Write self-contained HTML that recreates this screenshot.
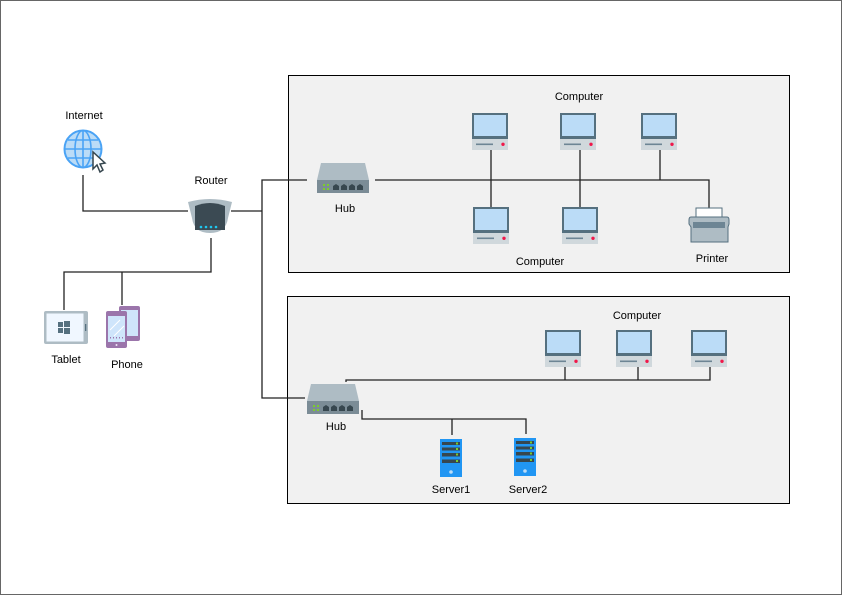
<!DOCTYPE html>
<html><head><meta charset="utf-8"><style>
html,body{margin:0;padding:0;background:#fff}
svg{display:block}
text{font-family:"Liberation Sans",Arial,sans-serif;font-size:11px;fill:#000}
</style></head><body>
<svg width="842" height="595" viewBox="0 0 842 595" xmlns="http://www.w3.org/2000/svg">
<defs>
 <g id="pc">
  <rect x="0" y="0" width="36" height="26" fill="#55707f"/>
  <rect x="2" y="2" width="32" height="21" fill="#bbdcf7"/>
  <rect x="0" y="26" width="36" height="11" fill="#d0d8dc"/>
  <rect x="4" y="30.5" width="17" height="1.6" fill="#6d8594"/>
  <circle cx="31" cy="31.3" r="1.7" fill="#f0184a"/>
 </g>
 <g id="hub">
  <polygon points="4,0 48,0 52,17 0,17" fill="#aebcc4"/>
  <rect x="0" y="17" width="52" height="13" fill="#7b8c96"/>
  <rect x="6" y="21" width="2" height="2" fill="#7ccc2e"/><rect x="10" y="21" width="2" height="2" fill="#7ccc2e"/>
  <rect x="6" y="25" width="2" height="2" fill="#7ccc2e"/><rect x="10" y="25" width="2" height="2" fill="#7ccc2e"/>
  <path d="M16,27v-4l3,-2l3,2v4zM24,27v-4l3,-2l3,2v4zM32,27v-4l3,-2l3,2v4zM40,27v-4l3,-2l3,2v4z" fill="#37474f"/>
 </g>
 <g id="srv">
  <rect x="0" y="0" width="22" height="38" fill="#2196f3"/>
  <rect x="2" y="3" width="18" height="3" fill="#37474f"/><rect x="16" y="3.5" width="2" height="2" fill="#7ccc2e"/>
  <rect x="2" y="8.5" width="18" height="3" fill="#37474f"/><rect x="16" y="9" width="2" height="2" fill="#7ccc2e"/>
  <rect x="2" y="14" width="18" height="3.5" fill="#37474f"/><rect x="16" y="14.5" width="2" height="2" fill="#7ccc2e"/>
  <rect x="2" y="20.5" width="18" height="3.5" fill="#37474f"/><rect x="16" y="21" width="2" height="2" fill="#7ccc2e"/>
  <circle cx="11" cy="33" r="1.8" fill="#bbdcf7"/>
 </g>
</defs>

<rect x="0.5" y="0.5" width="841" height="594" fill="#fff" stroke="#666"/>
<rect x="288.5" y="75.5" width="501" height="197" fill="#f1f1f1" stroke="#000"/>
<rect x="287.5" y="296.5" width="502" height="207" fill="#f1f1f1" stroke="#000"/>

<g stroke="#222" stroke-width="1.3" fill="none">
 <polyline points="83,175 83,211 188,211"/>
 <polyline points="231,211 262,211"/>
 <polyline points="307,180 262,180 262,398 305,398"/>
 <polyline points="211,238 211,272 64,272 64,310"/>
 <polyline points="122,272 122,305"/>
 <polyline points="375,180 709,180 709,208"/>
 <line x1="491" y1="150" x2="491" y2="207"/>
 <line x1="580" y1="150" x2="580" y2="207"/>
 <line x1="660" y1="150" x2="660" y2="180"/>
 <polyline points="346,382 346,380 710,380 710,367"/>
 <line x1="565" y1="367" x2="565" y2="380"/>
 <line x1="638" y1="367" x2="638" y2="380"/>
 <polyline points="362,410 362,419 526,419 526,434"/>
 <line x1="452" y1="419" x2="452" y2="435"/>
</g>

<!-- internet -->
<circle cx="83" cy="149" r="18.5" fill="#bbdcf7" stroke="#4aa3f5" stroke-width="2"/>
<g stroke="#4aa3f5" stroke-width="1.6" fill="none">
 <ellipse cx="83" cy="149" rx="8" ry="18.5"/>
 <line x1="83" y1="131" x2="83" y2="167"/>
 <line x1="65" y1="149" x2="101" y2="149"/>
 <line x1="68" y1="140" x2="98" y2="140"/>
 <line x1="68" y1="158" x2="98" y2="158"/>
</g>
<path d="M93,152 L93,169 L97,165 L100,172 L103,170 L100,164 L105,163 Z" fill="#fff" stroke="#37474f" stroke-width="1.5"/>

<!-- router -->
<path d="M188,202 Q210,196 232,202 L228,218 Q226,233 210,233 Q194,233 192,218 Z" fill="#aebcc4"/>
<path d="M195,206 Q210,200 225,206 L225,228 L195,228 Z" fill="#3b4a53"/>
<g fill="#1ec8f0"><circle cx="201" cy="228" r="1.3"/><circle cx="206" cy="228" r="1.3"/><circle cx="211" cy="228" r="1.3"/><circle cx="216" cy="228" r="1.3"/></g>
<path d="M195,222 L225,222 L225,230 L195,230 Z" fill="#3b4a53"/>
<g fill="#1ec8f0"><circle cx="201" cy="227" r="1.3"/><circle cx="206" cy="227" r="1.3"/><circle cx="211" cy="227" r="1.3"/><circle cx="216" cy="227" r="1.3"/></g>

<!-- tablet -->
<rect x="44" y="311" width="44" height="33" rx="2" fill="#aebcc4"/>
<rect x="46.5" y="313.5" width="37" height="28" fill="#f0f7ff"/>
<rect x="85" y="324" width="1.3" height="7" fill="#55707f"/>
<g fill="#55707f"><rect x="58" y="322" width="5" height="5"/><rect x="64" y="321" width="6" height="6"/><rect x="58" y="328" width="5" height="5"/><rect x="64" y="328" width="6" height="6"/></g>

<!-- phones -->
<rect x="119" y="306" width="21" height="35" rx="2" fill="#9b75ab"/>
<rect x="121" y="310" width="17" height="26" fill="#cfe5fb"/>
<rect x="106" y="311" width="21" height="37" rx="2" fill="#9b75ab"/>
<rect x="108" y="316" width="17" height="26" fill="#cfe5fb"/>
<g stroke="#fff" stroke-width="1"><line x1="110" y1="330" x2="120" y2="320"/><line x1="114" y1="336" x2="124" y2="326"/></g>
<g fill="#9b75ab"><rect x="110" y="337" width="1" height="1.5"/><rect x="113" y="337" width="1" height="1.5"/><rect x="116" y="337" width="1" height="1.5"/><rect x="119" y="337" width="1" height="1.5"/><rect x="122" y="337" width="1" height="1.5"/></g>
<circle cx="116.5" cy="345" r="1" fill="#f0e6f5"/>

<use href="#hub" x="317" y="163"/>
<use href="#hub" x="307" y="384"/>

<use href="#pc" x="472" y="113"/>
<use href="#pc" x="560" y="113"/>
<use href="#pc" x="641" y="113"/>
<use href="#pc" x="473" y="207"/>
<use href="#pc" x="562" y="207"/>
<use href="#pc" x="545" y="330"/>
<use href="#pc" x="616" y="330"/>
<use href="#pc" x="691" y="330"/>

<!-- printer -->
<rect x="696" y="208" width="26" height="10" fill="#fff" stroke="#55707f"/>
<path d="M691,217 L727,217 Q729,217 729,220 L729,224 L728,227 L728,242 L691,242 L691,227 L689,224 L689,220 Q689,217 691,217 Z" fill="#aebcc4" stroke="#55707f"/>
<rect x="693" y="222" width="32" height="6" fill="#6d8594"/>

<use href="#srv" x="440" y="439"/>
<use href="#srv" x="514" y="438"/>

<g text-anchor="middle">
 <text x="84" y="119">Internet</text>
 <text x="211" y="184">Router</text>
 <text x="345" y="212">Hub</text>
 <text x="66" y="363">Tablet</text>
 <text x="127" y="368">Phone</text>
 <text x="579" y="100">Computer</text>
 <text x="540" y="265">Computer</text>
 <text x="712" y="262">Printer</text>
 <text x="637" y="319">Computer</text>
 <text x="336" y="430">Hub</text>
 <text x="451" y="493">Server1</text>
 <text x="528" y="493">Server2</text>
</g>
</svg>
</body></html>
